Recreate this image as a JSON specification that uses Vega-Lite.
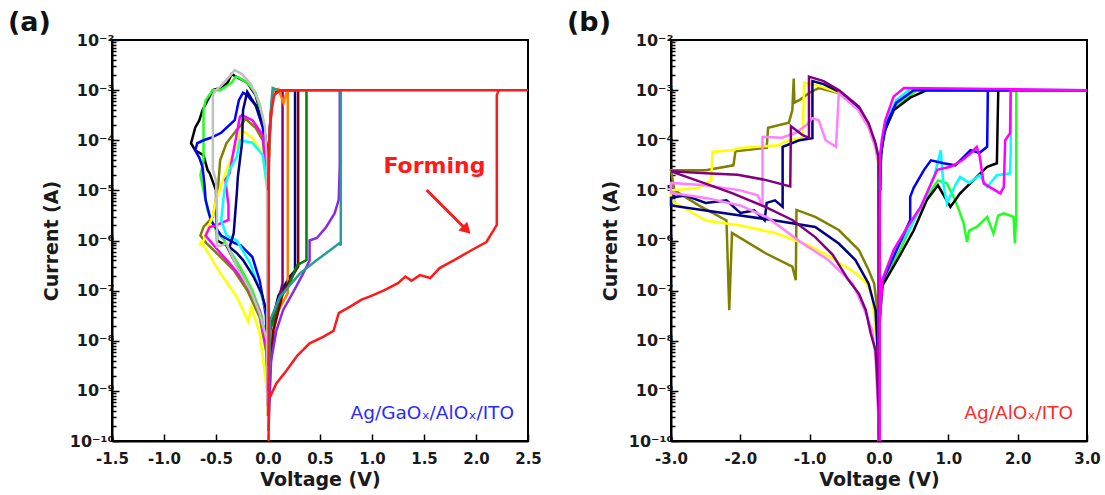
{
  "$schema": "https://vega.github.io/schema/vega-lite/v6.json",
  "background": "white",
  "padding": {"left": 7, "top": 8, "right": 4, "bottom": 2},
  "config": {
    "font": "DejaVu Sans",
    "view": {"stroke": "#000", "strokeWidth": 2},
    "axis": {
      "grid": false, "domainColor": "#000", "domainWidth": 2, "tickColor": "#000", "tickWidth": 1.5,
      "labelFont": "DejaVu Sans", "labelFontWeight": "bold", "labelFontSize": 15, "labelColor": "#1a1a1a",
      "titleFont": "DejaVu Sans", "titleFontWeight": "bold", "titleFontSize": 19, "titleColor": "#1a1a1a",
      "labelOverlap": false, "labelFlush": false
    }
  },
  "datasets": {
    "a": [
      {"s":"black","V":-0.005,"I":2.51e-5},{"s":"black","V":-0.05,"I":2.51e-4},{"s":"black","V":-0.12,"I":7.94e-4},{"s":"black","V":-0.2,"I":1.41e-3},{"s":"black","V":-0.29,"I":1.78e-3},{"s":"black","V":-0.35,"I":2.09e-3},{"s":"black","V":-0.39,"I":1.38e-3},{"s":"black","V":-0.45,"I":1.12e-3},{"s":"black","V":-0.53,"I":1.0e-3},{"s":"black","V":-0.58,"I":6.31e-4},{"s":"black","V":-0.63,"I":3.98e-4},{"s":"black","V":-0.66,"I":2.51e-4},{"s":"black","V":-0.70,"I":1.78e-4},{"s":"black","V":-0.74,"I":8.71e-5},{"s":"black","V":-0.70,"I":6.31e-5},{"s":"black","V":-0.62,"I":5.01e-5},{"s":"black","V":-0.58,"I":2.51e-5},{"s":"black","V":-0.56,"I":2.19e-5},{"s":"black","V":-0.5,"I":1e-5},{"s":"black","V":-0.49,"I":1e-6},{"s":"black","V":-0.4,"I":7.94e-7},{"s":"black","V":-0.3,"I":3.16e-7},{"s":"black","V":-0.17,"I":1e-7},{"s":"black","V":-0.08,"I":3.55e-8},{"s":"black","V":-0.01,"I":1e-8},{"s":"black","V":-0.004,"I":1e-9},
      {"s":"green","V":-0.005,"I":2.82e-5},{"s":"green","V":-0.05,"I":2.82e-4},{"s":"green","V":-0.12,"I":8.91e-4},{"s":"green","V":-0.2,"I":1.41e-3},{"s":"green","V":-0.28,"I":1.78e-3},{"s":"green","V":-0.31,"I":1.86e-3},{"s":"green","V":-0.35,"I":1.41e-3},{"s":"green","V":-0.42,"I":1.12e-3},{"s":"green","V":-0.46,"I":1e-3},{"s":"green","V":-0.53,"I":1e-3},{"s":"green","V":-0.6,"I":6.31e-4},{"s":"green","V":-0.62,"I":3.98e-4},{"s":"green","V":-0.62,"I":3.98e-5},{"s":"green","V":-0.65,"I":2.0e-5},{"s":"green","V":-0.62,"I":1e-5},{"s":"green","V":-0.58,"I":3.98e-6},{"s":"green","V":-0.5,"I":1.58e-6},{"s":"green","V":-0.42,"I":1e-6},{"s":"green","V":-0.35,"I":5.62e-7},{"s":"green","V":-0.25,"I":2.51e-7},{"s":"green","V":-0.15,"I":1e-7},{"s":"green","V":-0.06,"I":3.16e-8},{"s":"green","V":-0.015,"I":6.31e-9},{"s":"green","V":-0.004,"I":6.31e-10},
      {"s":"blue","V":-0.005,"I":2.0e-5},{"s":"blue","V":-0.05,"I":1.78e-4},{"s":"blue","V":-0.12,"I":5.01e-4},{"s":"blue","V":-0.2,"I":7.94e-4},{"s":"blue","V":-0.24,"I":8.91e-4},{"s":"blue","V":-0.28,"I":6.31e-4},{"s":"blue","V":-0.32,"I":2.51e-4},{"s":"blue","V":-0.45,"I":1.41e-4},{"s":"blue","V":-0.55,"I":1.12e-4},{"s":"blue","V":-0.62,"I":1e-4},{"s":"blue","V":-0.68,"I":8.71e-5},{"s":"blue","V":-0.70,"I":6.31e-5},{"s":"blue","V":-0.66,"I":4.47e-5},{"s":"blue","V":-0.63,"I":2.95e-5},{"s":"blue","V":-0.61,"I":1.26e-5},{"s":"blue","V":-0.60,"I":6.46e-6},{"s":"blue","V":-0.55,"I":2.51e-6},{"s":"blue","V":-0.45,"I":1.26e-6},{"s":"blue","V":-0.32,"I":8.91e-7},{"s":"blue","V":-0.26,"I":7.94e-7},{"s":"blue","V":-0.15,"I":4.68e-7},{"s":"blue","V":-0.08,"I":1.58e-7},{"s":"blue","V":-0.02,"I":3.16e-8},{"s":"blue","V":-0.004,"I":1.58e-9},
      {"s":"olive","V":-0.005,"I":1.26e-5},{"s":"olive","V":-0.05,"I":1e-4},{"s":"olive","V":-0.12,"I":1.78e-4},{"s":"olive","V":-0.2,"I":2.51e-4},{"s":"olive","V":-0.22,"I":2.63e-4},{"s":"olive","V":-0.26,"I":2.0e-4},{"s":"olive","V":-0.3,"I":1.62e-4},{"s":"olive","V":-0.40,"I":8.71e-5},{"s":"olive","V":-0.46,"I":3.98e-5},{"s":"olive","V":-0.48,"I":1.17e-5},{"s":"olive","V":-0.53,"I":2.95e-6},{"s":"olive","V":-0.62,"I":1.86e-6},{"s":"olive","V":-0.65,"I":1.26e-6},{"s":"olive","V":-0.59,"I":8.71e-7},{"s":"olive","V":-0.46,"I":4.79e-7},{"s":"olive","V":-0.33,"I":2.57e-7},{"s":"olive","V":-0.20,"I":1.02e-7},{"s":"olive","V":-0.08,"I":2.95e-8},{"s":"olive","V":-0.01,"I":5.01e-9},{"s":"olive","V":-0.004,"I":6.31e-10},
      {"s":"yellow","V":-0.005,"I":1e-5},{"s":"yellow","V":-0.05,"I":5.01e-5},{"s":"yellow","V":-0.15,"I":1.12e-4},{"s":"yellow","V":-0.25,"I":1.58e-4},{"s":"yellow","V":-0.27,"I":1.41e-4},{"s":"yellow","V":-0.3,"I":7.94e-5},{"s":"yellow","V":-0.4,"I":2.51e-5},{"s":"yellow","V":-0.5,"I":6.31e-6},{"s":"yellow","V":-0.53,"I":3.16e-6},{"s":"yellow","V":-0.62,"I":1e-6},{"s":"yellow","V":-0.66,"I":7.94e-7},{"s":"yellow","V":-0.64,"I":9.33e-7},{"s":"yellow","V":-0.46,"I":2.24e-7},{"s":"yellow","V":-0.30,"I":7.59e-8},{"s":"yellow","V":-0.19,"I":2.4e-8},{"s":"yellow","V":-0.16,"I":4.68e-8},{"s":"yellow","V":-0.08,"I":1.41e-8},{"s":"yellow","V":-0.03,"I":2.24e-9},{"s":"yellow","V":-0.01,"I":8.91e-10},{"s":"yellow","V":-0.004,"I":3.16e-10},
      {"s":"magenta","V":-0.005,"I":1.58e-5},{"s":"magenta","V":-0.05,"I":1.26e-4},{"s":"magenta","V":-0.15,"I":2.51e-4},{"s":"magenta","V":-0.25,"I":3.16e-4},{"s":"magenta","V":-0.27,"I":2.95e-4},{"s":"magenta","V":-0.33,"I":6.31e-5},{"s":"magenta","V":-0.37,"I":2.19e-5},{"s":"magenta","V":-0.41,"I":1.62e-5},{"s":"magenta","V":-0.38,"I":5.01e-6},{"s":"magenta","V":-0.38,"I":2.57e-6},{"s":"magenta","V":-0.5,"I":2.0e-6},{"s":"magenta","V":-0.56,"I":1.86e-6},{"s":"magenta","V":-0.6,"I":1.26e-6},{"s":"magenta","V":-0.5,"I":7.08e-7},{"s":"magenta","V":-0.35,"I":3.16e-7},{"s":"magenta","V":-0.2,"I":1.26e-7},{"s":"magenta","V":-0.08,"I":3.98e-8},{"s":"magenta","V":-0.01,"I":6.31e-9},{"s":"magenta","V":-0.004,"I":5.01e-10},
      {"s":"cyan","V":-0.005,"I":1e-5},{"s":"cyan","V":-0.05,"I":5.01e-5},{"s":"cyan","V":-0.15,"I":8.91e-5},{"s":"cyan","V":-0.27,"I":1e-4},{"s":"cyan","V":-0.3,"I":4.68e-5},{"s":"cyan","V":-0.37,"I":2.57e-5},{"s":"cyan","V":-0.42,"I":1e-5},{"s":"cyan","V":-0.45,"I":2.51e-6},{"s":"cyan","V":-0.4,"I":1.26e-6},{"s":"cyan","V":-0.30,"I":1e-6},{"s":"cyan","V":-0.17,"I":3.47e-7},{"s":"cyan","V":-0.08,"I":1.02e-7},{"s":"cyan","V":-0.01,"I":3.55e-8},{"s":"cyan","V":-0.004,"I":3.16e-9},
      {"s":"navy","V":0.005,"I":1.58e-9},{"s":"navy","V":0.02,"I":1.62e-8},{"s":"navy","V":0.1,"I":7.94e-8},{"s":"navy","V":0.21,"I":1.91e-7},{"s":"navy","V":0.26,"I":2.51e-7},{"s":"navy","V":0.26,"I":1e-3},{"s":"navy","V":0.1,"I":1e-3},{"s":"navy","V":0.05,"I":8.91e-4},{"s":"navy","V":0.035,"I":5.01e-4},{"s":"navy","V":0.02,"I":2.0e-4},{"s":"navy","V":0.01,"I":6.31e-5},{"s":"navy","V":0.004,"I":1e-5},{"s":"navy","V":-0.01,"I":7.41e-5},{"s":"navy","V":-0.04,"I":1.86e-4},{"s":"navy","V":-0.11,"I":4.68e-4},{"s":"navy","V":-0.2,"I":9.33e-4},{"s":"navy","V":-0.24,"I":3.98e-4},{"s":"navy","V":-0.25,"I":8.71e-5},{"s":"navy","V":-0.29,"I":1.86e-5},{"s":"navy","V":-0.30,"I":8.71e-6},{"s":"navy","V":-0.33,"I":1.38e-6},{"s":"navy","V":-0.37,"I":7.41e-7},{"s":"navy","V":-0.3,"I":5.62e-7},{"s":"navy","V":-0.24,"I":4.07e-7},{"s":"navy","V":-0.14,"I":1.91e-7},{"s":"navy","V":-0.06,"I":8.71e-8},{"s":"navy","V":-0.01,"I":3.55e-8},{"s":"navy","V":-0.004,"I":1.58e-9},
      {"s":"gray","V":-0.004,"I":3.16e-10},{"s":"gray","V":-0.01,"I":3.98e-5},{"s":"gray","V":-0.03,"I":1.86e-4},{"s":"gray","V":-0.08,"I":5.5e-4},{"s":"gray","V":-0.17,"I":1.38e-3},{"s":"gray","V":-0.25,"I":2.09e-3},{"s":"gray","V":-0.32,"I":2.51e-3},{"s":"gray","V":-0.38,"I":1.78e-3},{"s":"gray","V":-0.46,"I":1.17e-3},{"s":"gray","V":-0.50,"I":1e-3},{"s":"gray","V":-0.53,"I":7.94e-4},{"s":"gray","V":-0.53,"I":2.51e-5},{"s":"gray","V":-0.50,"I":1.58e-5},{"s":"gray","V":-0.49,"I":3.16e-6},{"s":"gray","V":-0.49,"I":7.59e-7},{"s":"gray","V":-0.45,"I":7.94e-7},{"s":"gray","V":-0.40,"I":8.71e-7},{"s":"gray","V":-0.30,"I":3.02e-7},{"s":"gray","V":-0.17,"I":1.02e-7},{"s":"gray","V":-0.08,"I":3.55e-8},{"s":"gray","V":-0.01,"I":1.02e-8},{"s":"gray","V":-0.004,"I":1e-9},
      {"s":"purple","V":0.005,"I":3.16e-10},{"s":"purple","V":0.02,"I":3.98e-9},{"s":"purple","V":0.08,"I":3.98e-8},{"s":"purple","V":0.14,"I":1.41e-7},{"s":"purple","V":0.14,"I":1e-3},{"s":"purple","V":0.1,"I":1e-3},{"s":"purple","V":0.05,"I":8.91e-4},{"s":"purple","V":0.035,"I":5.01e-4},{"s":"purple","V":0.02,"I":2.0e-4},{"s":"purple","V":0.01,"I":6.31e-5},{"s":"purple","V":0.005,"I":1e-5},
      {"s":"orange","V":0.005,"I":1e-9},{"s":"orange","V":0.03,"I":1e-8},{"s":"orange","V":0.1,"I":3.98e-8},{"s":"orange","V":0.19,"I":8.91e-8},{"s":"orange","V":0.19,"I":1e-3},{"s":"orange","V":0.17,"I":7.94e-4},{"s":"orange","V":0.15,"I":5.5e-4},{"s":"orange","V":0.1,"I":1.05e-3},{"s":"orange","V":0.06,"I":1e-3},{"s":"orange","V":0.04,"I":6.31e-4},{"s":"orange","V":0.025,"I":2.51e-4},{"s":"orange","V":0.012,"I":5.01e-5},
      {"s":"maroon","V":0.005,"I":1e-9},{"s":"maroon","V":0.05,"I":1.58e-8},{"s":"maroon","V":0.15,"I":1e-7},{"s":"maroon","V":0.29,"I":3.02e-7},{"s":"maroon","V":0.29,"I":1e-3},
      {"s":"dkgreen","V":0.005,"I":3.16e-9},{"s":"dkgreen","V":0.02,"I":1.58e-8},{"s":"dkgreen","V":0.1,"I":6.31e-8},{"s":"dkgreen","V":0.2,"I":1.26e-7},{"s":"dkgreen","V":0.28,"I":3.24e-7},{"s":"dkgreen","V":0.37,"I":4.07e-7},{"s":"dkgreen","V":0.37,"I":1e-3},
      {"s":"violet","V":0.005,"I":1.58e-10},{"s":"violet","V":0.03,"I":3.98e-9},{"s":"violet","V":0.08,"I":1.58e-8},{"s":"violet","V":0.145,"I":4.07e-8},{"s":"violet","V":0.25,"I":1e-7},{"s":"violet","V":0.34,"I":2.24e-7},{"s":"violet","V":0.40,"I":3.98e-7},{"s":"violet","V":0.40,"I":1e-6},{"s":"violet","V":0.47,"I":1.12e-6},{"s":"violet","V":0.56,"I":1.86e-6},{"s":"violet","V":0.64,"I":3.47e-6},{"s":"violet","V":0.68,"I":6.46e-6},{"s":"violet","V":0.69,"I":3.16e-5},{"s":"violet","V":0.69,"I":1e-3},
      {"s":"teal","V":0.005,"I":1e-9},{"s":"teal","V":0.02,"I":2.57e-8},{"s":"teal","V":0.115,"I":7.59e-8},{"s":"teal","V":0.31,"I":2.24e-7},{"s":"teal","V":0.47,"I":4.07e-7},{"s":"teal","V":0.6,"I":6.46e-7},{"s":"teal","V":0.69,"I":8.91e-7},{"s":"teal","V":0.70,"I":7.94e-7},{"s":"teal","V":0.70,"I":1e-3},{"s":"teal","V":0.1,"I":1e-3},{"s":"teal","V":0.045,"I":1.1e-3},{"s":"teal","V":0.03,"I":5.01e-4},{"s":"teal","V":0.02,"I":2.0e-4},{"s":"teal","V":0.01,"I":6.31e-5},
      {"s":"red","V":0.02,"I":7.59e-10},{"s":"red","V":0.08,"I":1.41e-9},{"s":"red","V":0.18,"I":2.57e-9},{"s":"red","V":0.28,"I":5.01e-9},{"s":"red","V":0.40,"I":8.91e-9},{"s":"red","V":0.53,"I":1.2e-8},{"s":"red","V":0.63,"I":1.58e-8},{"s":"red","V":0.68,"I":3.55e-8},{"s":"red","V":0.79,"I":4.79e-8},{"s":"red","V":0.9,"I":6.61e-8},{"s":"red","V":1.0,"I":7.94e-8},{"s":"red","V":1.12,"I":1.02e-7},{"s":"red","V":1.25,"I":1.41e-7},{"s":"red","V":1.32,"I":1.91e-7},{"s":"red","V":1.38,"I":1.58e-7},{"s":"red","V":1.46,"I":2.04e-7},{"s":"red","V":1.56,"I":1.78e-7},{"s":"red","V":1.65,"I":2.82e-7},{"s":"red","V":1.79,"I":4.07e-7},{"s":"red","V":1.96,"I":6.46e-7},{"s":"red","V":2.10,"I":9.33e-7},{"s":"red","V":2.20,"I":2.04e-6},{"s":"red","V":2.20,"I":7.94e-4},{"s":"red","V":2.22,"I":1e-3},{"s":"red","V":2.5,"I":1e-3},{"s":"red","V":0.12,"I":1e-3},{"s":"red","V":0.06,"I":7.94e-4},{"s":"red","V":0.035,"I":3.98e-4},{"s":"red","V":0.02,"I":1.86e-4},{"s":"red","V":0.008,"I":6.31e-5},{"s":"red","V":0.006,"I":1e-10}
    ],
    "b": [
      {"s":"olive","V":-0.002,"I":1e-10},{"s":"olive","V":-0.01,"I":3.98e-5},{"s":"olive","V":-0.05,"I":7.94e-5},{"s":"olive","V":-0.15,"I":2.0e-4},{"s":"olive","V":-0.3,"I":4.47e-4},{"s":"olive","V":-0.58,"I":8.71e-4},{"s":"olive","V":-0.87,"I":1.1e-3},{"s":"olive","V":-1.0,"I":8.91e-4},{"s":"olive","V":-1.15,"I":6.31e-4},{"s":"olive","V":-1.22,"I":5.62e-4},{"s":"olive","V":-1.23,"I":1.7e-3},{"s":"olive","V":-1.25,"I":3.98e-4},{"s":"olive","V":-1.3,"I":2.24e-4},{"s":"olive","V":-1.6,"I":1.78e-4},{"s":"olive","V":-1.62,"I":7.08e-5},{"s":"olive","V":-2.07,"I":6.03e-5},{"s":"olive","V":-2.1,"I":3.16e-5},{"s":"olive","V":-2.5,"I":2.51e-5},{"s":"olive","V":-3.0,"I":2.51e-5},{"s":"olive","V":-2.95,"I":1e-5},{"s":"olive","V":-2.6,"I":5.01e-6},{"s":"olive","V":-2.2,"I":2.51e-6},{"s":"olive","V":-2.16,"I":4.07e-8},{"s":"olive","V":-2.12,"I":1.41e-6},{"s":"olive","V":-1.63,"I":5.5e-7},{"s":"olive","V":-1.25,"I":3.02e-7},{"s":"olive","V":-1.2,"I":1.62e-7},{"s":"olive","V":-1.19,"I":4.07e-6},{"s":"olive","V":-0.92,"I":2.95e-6},{"s":"olive","V":-0.58,"I":1.62e-6},{"s":"olive","V":-0.29,"I":6.46e-7},{"s":"olive","V":-0.15,"I":2.57e-7},{"s":"olive","V":-0.07,"I":1.38e-7},{"s":"olive","V":-0.03,"I":5.01e-8},{"s":"olive","V":-0.005,"I":1e-9},
      {"s":"yellow","V":-0.002,"I":1e-10},{"s":"yellow","V":-0.01,"I":3.16e-5},{"s":"yellow","V":-0.05,"I":7.08e-5},{"s":"yellow","V":-0.15,"I":1.91e-4},{"s":"yellow","V":-0.3,"I":4.17e-4},{"s":"yellow","V":-0.58,"I":8.91e-4},{"s":"yellow","V":-0.85,"I":1.2e-3},{"s":"yellow","V":-1.08,"I":1.41e-3},{"s":"yellow","V":-1.1,"I":1.12e-4},{"s":"yellow","V":-1.3,"I":1e-4},{"s":"yellow","V":-1.46,"I":7.94e-5},{"s":"yellow","V":-2.04,"I":6.92e-5},{"s":"yellow","V":-2.1,"I":6.31e-5},{"s":"yellow","V":-2.40,"I":5.89e-5},{"s":"yellow","V":-2.42,"I":1.58e-5},{"s":"yellow","V":-2.6,"I":1.12e-5},{"s":"yellow","V":-3.0,"I":1e-5},{"s":"yellow","V":-3.0,"I":6.31e-6},{"s":"yellow","V":-2.5,"I":2.51e-6},{"s":"yellow","V":-2.0,"I":2.0e-6},{"s":"yellow","V":-1.5,"I":1.41e-6},{"s":"yellow","V":-1.0,"I":7.94e-7},{"s":"yellow","V":-0.68,"I":4.47e-7},{"s":"yellow","V":-0.33,"I":2.19e-7},{"s":"yellow","V":-0.18,"I":1.38e-7},{"s":"yellow","V":-0.10,"I":7.59e-8},{"s":"yellow","V":-0.07,"I":3.02e-8},{"s":"yellow","V":-0.03,"I":7.59e-9},{"s":"yellow","V":-0.005,"I":3.16e-10},
      {"s":"navy","V":-0.002,"I":1e-10},{"s":"navy","V":-0.01,"I":3.98e-5},{"s":"navy","V":-0.05,"I":7.94e-5},{"s":"navy","V":-0.15,"I":2.0e-4},{"s":"navy","V":-0.29,"I":4.37e-4},{"s":"navy","V":-0.58,"I":9.33e-4},{"s":"navy","V":-0.8,"I":1.32e-3},{"s":"navy","V":-0.96,"I":1.51e-3},{"s":"navy","V":-0.96,"I":1.1e-4},{"s":"navy","V":-1.15,"I":1e-4},{"s":"navy","V":-1.39,"I":7.41e-5},{"s":"navy","V":-1.39,"I":4.68e-6},{"s":"navy","V":-1.5,"I":6.31e-6},{"s":"navy","V":-1.62,"I":5.62e-6},{"s":"navy","V":-1.65,"I":2.51e-6},{"s":"navy","V":-1.8,"I":3.98e-6},{"s":"navy","V":-2.0,"I":3.55e-6},{"s":"navy","V":-2.2,"I":6.31e-6},{"s":"navy","V":-2.5,"I":5.62e-6},{"s":"navy","V":-2.8,"I":7.94e-6},{"s":"navy","V":-3.0,"I":7.08e-6},{"s":"navy","V":-3.0,"I":5.01e-6},{"s":"navy","V":-2.5,"I":3.98e-6},{"s":"navy","V":-2.0,"I":3.16e-6},{"s":"navy","V":-1.5,"I":2.51e-6},{"s":"navy","V":-0.92,"I":1.86e-6},{"s":"navy","V":-0.58,"I":8.71e-7},{"s":"navy","V":-0.34,"I":4.07e-7},{"s":"navy","V":-0.15,"I":1.38e-7},{"s":"navy","V":-0.05,"I":4.07e-8},{"s":"navy","V":-0.02,"I":6.46e-9},{"s":"navy","V":-0.005,"I":1.26e-10},
      {"s":"pink","V":-0.002,"I":1e-10},{"s":"pink","V":-0.01,"I":3.55e-5},{"s":"pink","V":-0.05,"I":7.08e-5},{"s":"pink","V":-0.15,"I":1.78e-4},{"s":"pink","V":-0.3,"I":3.98e-4},{"s":"pink","V":-0.58,"I":8.71e-4},{"s":"pink","V":-0.62,"I":7.41e-5},{"s":"pink","V":-0.77,"I":1e-4},{"s":"pink","V":-0.87,"I":2.51e-4},{"s":"pink","V":-0.96,"I":2.75e-4},{"s":"pink","V":-1.05,"I":2.0e-4},{"s":"pink","V":-1.2,"I":1.41e-4},{"s":"pink","V":-1.4,"I":1.12e-4},{"s":"pink","V":-1.68,"I":1.17e-4},{"s":"pink","V":-1.68,"I":5.01e-6},{"s":"pink","V":-1.75,"I":7.94e-6},{"s":"pink","V":-2.0,"I":1e-5},{"s":"pink","V":-2.5,"I":1.26e-5},{"s":"pink","V":-3.0,"I":1.41e-5},{"s":"pink","V":-3.0,"I":8.91e-6},{"s":"pink","V":-2.5,"I":7.08e-6},{"s":"pink","V":-2.0,"I":5.01e-6},{"s":"pink","V":-1.6,"I":2.82e-6},{"s":"pink","V":-1.13,"I":9.33e-7},{"s":"pink","V":-0.73,"I":4.07e-7},{"s":"pink","V":-0.38,"I":1.38e-7},{"s":"pink","V":-0.23,"I":4.79e-8},{"s":"pink","V":-0.10,"I":1.62e-8},{"s":"pink","V":-0.05,"I":4.79e-9},{"s":"pink","V":-0.03,"I":1.2e-9},{"s":"pink","V":-0.01,"I":3.16e-10},{"s":"pink","V":-0.003,"I":1e-10},
      {"s":"purple","V":-0.002,"I":1e-10},{"s":"purple","V":-0.008,"I":4.68e-5},{"s":"purple","V":-0.05,"I":8.71e-5},{"s":"purple","V":-0.15,"I":2.19e-4},{"s":"purple","V":-0.29,"I":4.68e-4},{"s":"purple","V":-0.58,"I":1e-3},{"s":"purple","V":-0.8,"I":1.51e-3},{"s":"purple","V":-1.01,"I":1.86e-3},{"s":"purple","V":-1.01,"I":1.12e-4},{"s":"purple","V":-1.1,"I":1.26e-4},{"s":"purple","V":-1.27,"I":1.91e-4},{"s":"purple","V":-1.28,"I":1.2e-5},{"s":"purple","V":-1.64,"I":1.62e-5},{"s":"purple","V":-2.04,"I":2.04e-5},{"s":"purple","V":-2.5,"I":2.19e-5},{"s":"purple","V":-3.0,"I":2.4e-5},{"s":"purple","V":-2.45,"I":1.29e-5},{"s":"purple","V":-2.11,"I":8.71e-6},{"s":"purple","V":-1.64,"I":4.68e-6},{"s":"purple","V":-1.25,"I":2.57e-6},{"s":"purple","V":-0.92,"I":1.17e-6},{"s":"purple","V":-0.67,"I":5.25e-7},{"s":"purple","V":-0.44,"I":1.62e-7},{"s":"purple","V":-0.29,"I":8.71e-8},{"s":"purple","V":-0.19,"I":4.07e-8},{"s":"purple","V":-0.12,"I":1.41e-8},{"s":"purple","V":-0.05,"I":6.46e-9},{"s":"purple","V":-0.03,"I":2.24e-9},{"s":"purple","V":-0.005,"I":3.98e-10},{"s":"purple","V":-0.002,"I":1e-10},
      {"s":"green","V":0.015,"I":3.16e-8},{"s":"green","V":0.05,"I":1.41e-7},{"s":"green","V":0.3,"I":6.31e-7},{"s":"green","V":0.5,"I":2.51e-6},{"s":"green","V":0.69,"I":7.41e-6},{"s":"green","V":0.85,"I":1.58e-5},{"s":"green","V":0.98,"I":1.38e-5},{"s":"green","V":1.1,"I":6.31e-6},{"s":"green","V":1.17,"I":3.47e-6},{"s":"green","V":1.22,"I":2.19e-6},{"s":"green","V":1.27,"I":9.33e-7},{"s":"green","V":1.3,"I":1.58e-6},{"s":"green","V":1.41,"I":1.86e-6},{"s":"green","V":1.56,"I":2.95e-6},{"s":"green","V":1.65,"I":1.38e-6},{"s":"green","V":1.72,"I":3.16e-6},{"s":"green","V":1.80,"I":3.47e-6},{"s":"green","V":1.94,"I":2.95e-6},{"s":"green","V":1.96,"I":8.71e-7},{"s":"green","V":1.98,"I":3.16e-6},{"s":"green","V":1.98,"I":1e-3},{"s":"green","V":3.0,"I":1e-3},{"s":"green","V":0.55,"I":1e-3},{"s":"green","V":0.25,"I":5.01e-4},{"s":"green","V":0.1,"I":1.78e-4},{"s":"green","V":0.03,"I":5.62e-5},{"s":"green","V":0.015,"I":1e-5},
      {"s":"black","V":0.015,"I":3.16e-8},{"s":"black","V":0.05,"I":1.26e-7},{"s":"black","V":0.3,"I":5.01e-7},{"s":"black","V":0.5,"I":1.58e-6},{"s":"black","V":0.69,"I":6.46e-6},{"s":"black","V":0.85,"I":1.26e-5},{"s":"black","V":1.03,"I":4.68e-6},{"s":"black","V":1.17,"I":8.71e-6},{"s":"black","V":1.41,"I":1.86e-5},{"s":"black","V":1.56,"I":2.95e-5},{"s":"black","V":1.70,"I":3.47e-5},{"s":"black","V":1.72,"I":1e-3},{"s":"black","V":3.0,"I":1e-3},{"s":"black","V":0.69,"I":1e-3},{"s":"black","V":0.45,"I":7.08e-4},{"s":"black","V":0.21,"I":3.98e-4},{"s":"black","V":0.07,"I":1.38e-4},{"s":"black","V":0.03,"I":5.01e-5},{"s":"black","V":0.015,"I":1e-5},
      {"s":"cyan","V":0.015,"I":3.16e-8},{"s":"cyan","V":0.05,"I":1.78e-7},{"s":"cyan","V":0.21,"I":5.62e-7},{"s":"cyan","V":0.45,"I":1.78e-6},{"s":"cyan","V":0.65,"I":6.31e-6},{"s":"cyan","V":0.8,"I":2.0e-5},{"s":"cyan","V":0.89,"I":6.31e-5},{"s":"cyan","V":0.93,"I":1.26e-5},{"s":"cyan","V":0.98,"I":5.5e-6},{"s":"cyan","V":1.1,"I":1.26e-5},{"s":"cyan","V":1.17,"I":1.86e-5},{"s":"cyan","V":1.3,"I":1.41e-5},{"s":"cyan","V":1.45,"I":2.0e-5},{"s":"cyan","V":1.56,"I":1.17e-5},{"s":"cyan","V":1.7,"I":2.0e-5},{"s":"cyan","V":1.89,"I":2.19e-5},{"s":"cyan","V":1.9,"I":6.31e-5},{"s":"cyan","V":1.9,"I":1e-3},{"s":"cyan","V":3.0,"I":1e-3},{"s":"cyan","V":0.45,"I":1.05e-3},{"s":"cyan","V":0.25,"I":6.31e-4},{"s":"cyan","V":0.1,"I":2.4e-4},{"s":"cyan","V":0.04,"I":7.94e-5},{"s":"cyan","V":0.02,"I":5.01e-5},{"s":"cyan","V":0.015,"I":1e-5},
      {"s":"blue","V":0.015,"I":3.98e-8},{"s":"blue","V":0.05,"I":1.58e-7},{"s":"blue","V":0.21,"I":4.68e-7},{"s":"blue","V":0.45,"I":2.57e-6},{"s":"blue","V":0.45,"I":7.41e-6},{"s":"blue","V":0.5,"I":1.12e-5},{"s":"blue","V":0.65,"I":2.57e-5},{"s":"blue","V":0.75,"I":3.98e-5},{"s":"blue","V":0.93,"I":3.47e-5},{"s":"blue","V":1.1,"I":3.16e-5},{"s":"blue","V":1.32,"I":6.31e-5},{"s":"blue","V":1.45,"I":5.62e-5},{"s":"blue","V":1.56,"I":7.41e-5},{"s":"blue","V":1.57,"I":1e-3},{"s":"blue","V":3.0,"I":1e-3},{"s":"blue","V":0.5,"I":1e-3},{"s":"blue","V":0.25,"I":5.62e-4},{"s":"blue","V":0.1,"I":2.0e-4},{"s":"blue","V":0.03,"I":6.31e-5},{"s":"blue","V":0.015,"I":1e-5},
      {"s":"magenta","V":0.015,"I":2.51e-8},{"s":"magenta","V":0.03,"I":6.31e-8},{"s":"magenta","V":0.05,"I":1.62e-7},{"s":"magenta","V":0.21,"I":6.46e-7},{"s":"magenta","V":0.41,"I":1.86e-6},{"s":"magenta","V":0.6,"I":4.68e-6},{"s":"magenta","V":0.84,"I":2.57e-5},{"s":"magenta","V":1.03,"I":2.95e-5},{"s":"magenta","V":1.2,"I":3.98e-5},{"s":"magenta","V":1.32,"I":5.5e-5},{"s":"magenta","V":1.41,"I":7.41e-5},{"s":"magenta","V":1.45,"I":5.01e-5},{"s":"magenta","V":1.51,"I":1.38e-5},{"s":"magenta","V":1.75,"I":8.71e-6},{"s":"magenta","V":1.80,"I":1.17e-5},{"s":"magenta","V":1.82,"I":1e-4},{"s":"magenta","V":1.89,"I":1.38e-4},{"s":"magenta","V":1.90,"I":1e-3},{"s":"magenta","V":3.0,"I":1e-3},{"s":"magenta","V":0.36,"I":1.1e-3},{"s":"magenta","V":0.21,"I":7.41e-4},{"s":"magenta","V":0.09,"I":2.51e-4},{"s":"magenta","V":0.04,"I":1e-4},{"s":"magenta","V":0.02,"I":5.5e-5},{"s":"magenta","V":0.012,"I":3.16e-6},{"s":"magenta","V":0.01,"I":1e-10}
    ]
  },
  "hconcat": [
    {
      "width": 416, "height": 401,
      "title": {"text": "(a)", "anchor": "start", "frame": "group", "dx": -104, "offset": -5, "fontSize": 27, "fontWeight": "bold", "font": "DejaVu Sans", "color": "#111"},
      "layer": [
        {
          "data": {"name": "a"},
          "mark": {"type": "line", "strokeWidth": 2.5},
          "encoding": {
            "x": {"field": "V", "type": "quantitative", "scale": {"domain": [-1.5, 2.5], "nice": false, "zero": false},
              "axis": {"title": "Voltage (V)", "values": [-1.5,-1.25,-1,-0.75,-0.5,-0.25,0,0.25,0.5,0.75,1,1.25,1.5,1.75,2,2.25,2.5],
                "labelExpr": "abs(datum.value*2-round(datum.value*2))<0.01 ? (datum.value < 0 ? '-' + format(-datum.value,'.1f') : format(datum.value,'.1f')) : ''",
                "tickSize": {"condition": {"test": "abs(datum.value*2-round(datum.value*2))<0.01", "value": -7}, "value": -4},
                "labelPadding": 17, "titlePadding": 4}},
            "y": {"field": "I", "type": "quantitative", "scale": {"type": "log", "domain": [1e-10, 1e-2], "nice": false},
              "axis": {"title": "Current (A)", "values": [1e-10,2e-10,3e-10,4e-10,5e-10,6e-10,7e-10,8e-10,9e-10,1e-9,2e-9,3e-9,4e-9,5e-9,6e-9,7e-9,8e-9,9e-9,1e-8,2e-8,3e-8,4e-8,5e-8,6e-8,7e-8,8e-8,9e-8,1e-7,2e-7,3e-7,4e-7,5e-7,6e-7,7e-7,8e-7,9e-7,1e-6,2e-6,3e-6,4e-6,5e-6,6e-6,7e-6,8e-6,9e-6,1e-5,2e-5,3e-5,4e-5,5e-5,6e-5,7e-5,8e-5,9e-5,1e-4,2e-4,3e-4,4e-4,5e-4,6e-4,7e-4,8e-4,9e-4,1e-3,2e-3,3e-3,4e-3,5e-3,6e-3,7e-3,8e-3,9e-3,1e-2],
                "labelExpr": "abs(log(datum.value)/LN10-round(log(datum.value)/LN10))<0.01 ? '10⁻' + ['⁰','¹','²','³','⁴','⁵','⁶','⁷','⁸','⁹','¹⁰'][-round(log(datum.value)/LN10)] : ''",
                "tickSize": {"condition": {"test": "abs(log(datum.value)/LN10-round(log(datum.value)/LN10))<0.01", "value": -7}, "value": -4},
                "labelFontSize": 16, "labelPadding": 5, "titlePadding": 8}},
            "color": {"field": "s", "type": "nominal", "legend": null,
              "scale": {"domain": ["black","green","blue","olive","yellow","magenta","cyan","navy","gray","purple","orange","maroon","dkgreen","violet","teal","red","pink"],
                        "range": ["#000000","#22ff22","#0000ff","#808000","#ffff00","#ff00ff","#00ffff","#000080","#c0c0c0","#800080","#ff8000","#800000","#008000","#8a2be2","#2a9a9a","#ff1a1a","#ff80ff"]}},
            "order": {"value": null}
          }
        },
        {
          "data": {"values": [{"V": 1.525, "I": 1.02e-5, "V2": 1.91, "I2": 1.62e-6}]},
          "mark": {"type": "rule", "color": "#ff1a1a", "strokeWidth": 3},
          "encoding": {"x": {"field": "V", "type": "quantitative"}, "y": {"field": "I", "type": "quantitative"}, "x2": {"field": "V2"}, "y2": {"field": "I2"}}
        },
        {
          "data": {"values": [{"V": 1.91, "I": 1.62e-6}]},
          "mark": {"type": "point", "shape": "triangle-up", "angle": 135, "size": 160, "filled": true, "color": "#ff1a1a", "opacity": 1},
          "encoding": {"x": {"field": "V", "type": "quantitative"}, "y": {"field": "I", "type": "quantitative"}}
        },
        {
          "data": {"values": [{"V": 1.6, "I": 3.1e-5, "t": "Forming"}]},
          "mark": {"type": "text", "fontSize": 22, "fontWeight": "bold", "color": "#ff1a1a", "font": "DejaVu Sans", "align": "center", "baseline": "middle"},
          "encoding": {"x": {"field": "V", "type": "quantitative"}, "y": {"field": "I", "type": "quantitative"}, "text": {"field": "t"}}
        },
        {
          "data": {"values": [{"V": 2.365, "I": 2.77e-10, "t": "Ag/GaOₓ/AlOₓ/ITO"}]},
          "mark": {"type": "text", "fontSize": 18.5, "color": "#2a2aff", "font": "DejaVu Sans", "align": "right", "baseline": "alphabetic"},
          "encoding": {"x": {"field": "V", "type": "quantitative"}, "y": {"field": "I", "type": "quantitative"}, "text": {"field": "t"}}
        }
      ]
    },
    {
      "width": 416, "height": 401,
      "title": {"text": "(b)", "anchor": "start", "frame": "group", "dx": -104, "offset": -5, "fontSize": 27, "fontWeight": "bold", "font": "DejaVu Sans", "color": "#111"},
      "layer": [
        {
          "data": {"name": "b"},
          "mark": {"type": "line", "strokeWidth": 2.5},
          "encoding": {
            "x": {"field": "V", "type": "quantitative", "scale": {"domain": [-3, 3], "nice": false, "zero": false},
              "axis": {"title": "Voltage (V)", "values": [-3,-2.5,-2,-1.5,-1,-0.5,0,0.5,1,1.5,2,2.5,3],
                "labelExpr": "abs(datum.value-round(datum.value))<0.01 ? (datum.value < 0 ? '-' + format(-datum.value,'.1f') : format(datum.value,'.1f')) : ''",
                "tickSize": {"condition": {"test": "abs(datum.value-round(datum.value))<0.01", "value": -7}, "value": -4},
                "labelPadding": 17, "titlePadding": 4}},
            "y": {"field": "I", "type": "quantitative", "scale": {"type": "log", "domain": [1e-10, 1e-2], "nice": false},
              "axis": {"title": "Current (A)", "values": [1e-10,2e-10,3e-10,4e-10,5e-10,6e-10,7e-10,8e-10,9e-10,1e-9,2e-9,3e-9,4e-9,5e-9,6e-9,7e-9,8e-9,9e-9,1e-8,2e-8,3e-8,4e-8,5e-8,6e-8,7e-8,8e-8,9e-8,1e-7,2e-7,3e-7,4e-7,5e-7,6e-7,7e-7,8e-7,9e-7,1e-6,2e-6,3e-6,4e-6,5e-6,6e-6,7e-6,8e-6,9e-6,1e-5,2e-5,3e-5,4e-5,5e-5,6e-5,7e-5,8e-5,9e-5,1e-4,2e-4,3e-4,4e-4,5e-4,6e-4,7e-4,8e-4,9e-4,1e-3,2e-3,3e-3,4e-3,5e-3,6e-3,7e-3,8e-3,9e-3,1e-2],
                "labelExpr": "abs(log(datum.value)/LN10-round(log(datum.value)/LN10))<0.01 ? '10⁻' + ['⁰','¹','²','³','⁴','⁵','⁶','⁷','⁸','⁹','¹⁰'][-round(log(datum.value)/LN10)] : ''",
                "tickSize": {"condition": {"test": "abs(log(datum.value)/LN10-round(log(datum.value)/LN10))<0.01", "value": -7}, "value": -4},
                "labelFontSize": 16, "labelPadding": 5, "titlePadding": 8}},
            "color": {"field": "s", "type": "nominal", "legend": null},
            "order": {"value": null}
          }
        },
        {
          "data": {"values": [{"V": 2.80, "I": 2.77e-10, "t": "Ag/AlOₓ/ITO"}]},
          "mark": {"type": "text", "fontSize": 18.5, "color": "#ff2a2a", "font": "DejaVu Sans", "align": "right", "baseline": "alphabetic"},
          "encoding": {"x": {"field": "V", "type": "quantitative"}, "y": {"field": "I", "type": "quantitative"}, "text": {"field": "t"}}
        }
      ]
    }
  ],
  "spacing": 143,
  "bounds": "flush"
}
